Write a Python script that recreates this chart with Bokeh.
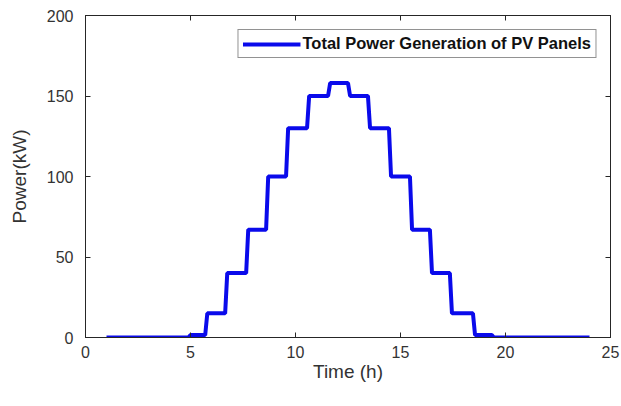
from bokeh.plotting import figure
from bokeh.models import Range1d, LinearAxis, Legend, LegendItem, FixedTicker
from bokeh.embed import file_html
from bokeh.resources import INLINE

# Stepwise PV generation profile (hour, kW)
time_h = [1, 4.9, 5.0, 5.7, 5.8, 6.65, 6.75, 7.65, 7.75, 8.6, 8.7, 9.55, 9.65,
          10.55, 10.65, 11.55, 11.65, 12.5, 12.6, 13.45, 13.55, 14.45, 14.55,
          15.45, 15.55, 16.4, 16.5, 17.35, 17.45, 18.45, 18.55, 19.35, 19.45, 24]
power_kw = [0, 0, 1.5, 1.5, 15, 15, 40, 40, 67, 67, 100, 100, 130, 130, 150, 150,
            158, 158, 150, 150, 130, 130, 100, 100, 67, 67, 40, 40, 15, 15,
            1.5, 1.5, 0, 0]
series_label = "Total Power Generation of PV Panels"
x_ticks = [0, 5, 10, 15, 20, 25]
y_ticks = [0, 50, 100, 150, 200]

FONT = "Liberation Sans"
TXT = "#262626"

p = figure(width=621, height=406, output_backend="svg", toolbar_location=None,
           x_range=Range1d(0, 25), y_range=Range1d(0, 200),
           min_border_left=85, min_border_right=11, min_border_top=15,
           min_border_bottom=69, x_axis_label="Time (h)", y_axis_label="Power(kW)")
p.xgrid.visible = False
p.ygrid.visible = False
p.outline_line_color = TXT
p.outline_line_width = 1
p.background_fill_color = "white"
p.border_fill_color = "white"

r = p.line(time_h, power_kw, line_color="#0a0aeb", line_width=4)

for ax, ticks in ((p.xaxis[0], x_ticks), (p.yaxis[0], y_ticks)):
    ax.ticker = FixedTicker(ticks=ticks)
    ax.major_tick_in = 5
    ax.major_tick_out = 0
    ax.minor_tick_line_color = None
    ax.axis_line_color = TXT
    ax.major_tick_line_color = TXT
    ax.major_label_text_font = FONT
    ax.major_label_text_font_size = "16px"
    ax.major_label_text_color = "#333333"
    ax.axis_label_text_font = FONT
    ax.axis_label_text_font_size = "19px"
    ax.axis_label_text_font_style = "normal"
    ax.axis_label_text_color = "#333333"

p.xaxis.major_label_standoff = 8
p.xaxis.axis_label_standoff = 0
p.yaxis.major_label_standoff = 12
p.yaxis.axis_label_standoff = 14

# box ticks on top and right (no labels)
top = LinearAxis(ticker=FixedTicker(ticks=x_ticks), major_tick_in=5, major_tick_out=0,
                 minor_tick_line_color=None, major_label_text_color=None,
                 major_label_text_font_size="1px",
                 axis_line_color=TXT, major_tick_line_color=TXT, major_label_standoff=0)
right = LinearAxis(ticker=FixedTicker(ticks=y_ticks), major_tick_in=5, major_tick_out=0,
                   minor_tick_line_color=None, major_label_text_color=None,
                   major_label_text_font_size="1px",
                   axis_line_color=TXT, major_tick_line_color=TXT, major_label_standoff=0)
p.add_layout(top, "above")
p.add_layout(right, "right")

legend = Legend(items=[LegendItem(label=series_label, renderers=[r])],
                location="top_right")
legend.label_text_font = FONT
legend.label_text_font_size = "16.5px"
legend.label_text_font_style = "bold"
legend.label_text_color = "#111111"
legend.glyph_width = 58
legend.glyph_height = 14
legend.label_standoff = 2
legend.padding = 4
legend.margin = 14
legend.spacing = 0
legend.border_line_color = TXT
legend.border_line_width = 1
legend.background_fill_alpha = 1
p.add_layout(legend, "center")

open("out.html", "w").write(file_html(p, INLINE))
